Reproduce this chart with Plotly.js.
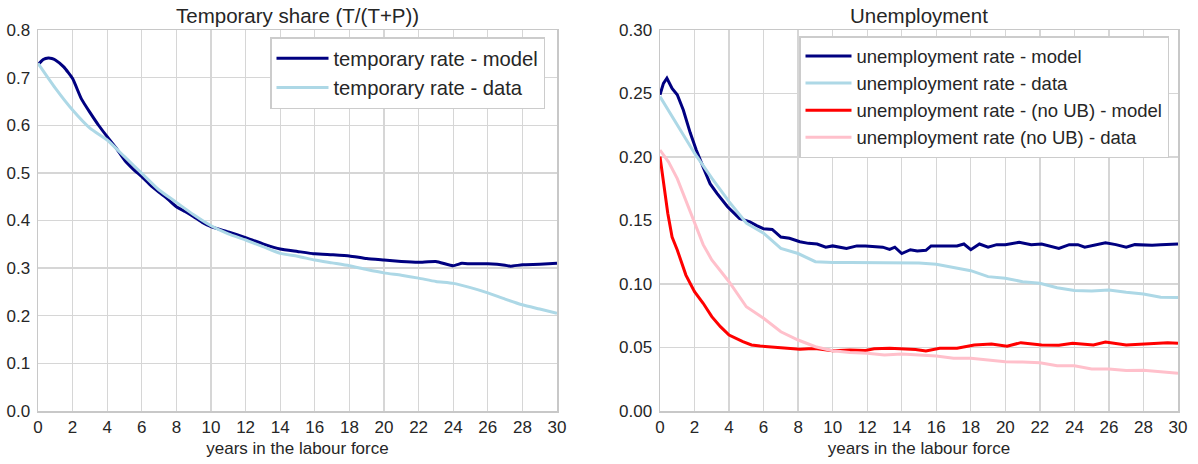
<!DOCTYPE html>
<html>
<head>
<meta charset="utf-8">
<script src="https://cdn.plot.ly/plotly-3.0.1.min.js"></script>
<style>html,body{margin:0;padding:0;background:#fff;}#chart{width:1198px;height:464px;}</style>
</head>
<body>
<div id="chart"></div>
<script>
// ---- Left panel: temporary share ----
const tmpModelYears = [0,0.3,0.6,0.8,1.0,1.5,2.0,2.5,3.0,3.5,4.0,4.5,5.0,5.5,6.0,6.5,7.0,7.5,8.0,8.5,9.0,9.5,10,11,12,13,14,15,16,17,18,19,20,21,22,23,24,24.5,25,26,27,27.3,28,29,30];
const tmpModel = [0.727,0.738,0.741,0.740,0.737,0.722,0.698,0.656,0.627,0.600,0.576,0.553,0.527,0.508,0.492,0.474,0.459,0.445,0.429,0.419,0.408,0.396,0.387,0.376,0.364,0.351,0.340,0.335,0.330,0.328,0.3256,0.320,0.317,0.314,0.3124,0.314,0.305,0.310,0.309,0.309,0.306,0.304,0.307,0.308,0.310];
const tmpDataYears = [0,1,2,3,4,5,6,7,8,9,10,11,12,13,14,15,16,17,18,19,20,21,22,23,24,25,26,27,28,29,30];
const tmpData = [0.730,0.678,0.632,0.594,0.569,0.534,0.499,0.464,0.438,0.412,0.389,0.372,0.359,0.345,0.331,0.325,0.317,0.311,0.305,0.297,0.290,0.285,0.279,0.272,0.268,0.259,0.248,0.235,0.223,0.214,0.205];

// ---- Right panel: unemployment ----
const uModelYears = [0,0.2,0.4,0.7,1.0,1.35,1.75,2.1,2.5,2.9,3.3,3.9,4.6,5.2,5.6,6.0,6.5,7.0,7.5,8.1,8.6,9.1,9.6,10,10.8,11.4,11.9,12.5,12.9,13.3,13.6,14,14.5,14.9,15.4,15.7,16.5,17.2,17.6,18,18.5,19,19.5,20,20.8,21.5,22.1,22.6,23.1,23.7,24.2,24.6,25.2,25.8,26.4,27,27.5,28,28.5,29,29.7,30];
const uModel = [0.249,0.258,0.262,0.254,0.249,0.237,0.219,0.2055,0.192,0.179,0.1714,0.161,0.1517,0.149,0.146,0.1435,0.143,0.137,0.136,0.1333,0.132,0.1315,0.129,0.130,0.128,0.130,0.130,0.1295,0.129,0.1273,0.129,0.124,0.127,0.126,0.1265,0.130,0.130,0.130,0.1315,0.127,0.1315,0.129,0.131,0.131,0.1328,0.131,0.1315,0.130,0.128,0.131,0.131,0.129,0.131,0.1325,0.131,0.129,0.131,0.1305,0.1305,0.131,0.1315,0.1315];
const uDataYears = [0,1,2,3,4,5,6,7,8,9,10,11,12,13,14,15,16,17,18,19,20,21,22,23,24,25,26,27,28,29,30];
const uData = [0.2476,0.225,0.203,0.1833,0.1648,0.148,0.140,0.128,0.124,0.1176,0.117,0.117,0.117,0.1165,0.1168,0.1165,0.1155,0.113,0.1105,0.1058,0.1045,0.1018,0.1006,0.0971,0.0948,0.0945,0.0953,0.0935,0.0921,0.0895,0.0893];
const uNoUBModelYears = [0,0.25,0.45,0.7,1.0,1.5,2.0,2.5,3.0,3.5,4.0,4.8,5.3,5.8,6.5,7.1,7.6,8.1,8.6,9.1,10,11,11.9,12.4,13.3,14,14.8,15.4,16.2,17.2,18.2,19.2,20.1,20.9,22.1,23.1,23.9,25.1,25.8,27,28.2,29.4,30];
const uNoUBModel = [0.2003,0.1766,0.1557,0.137,0.1268,0.107,0.094,0.0848,0.0743,0.0664,0.0598,0.0546,0.052,0.0512,0.0505,0.0499,0.049,0.0486,0.049,0.049,0.0475,0.048,0.0477,0.049,0.0494,0.0488,0.0485,0.0472,0.0494,0.0494,0.052,0.0528,0.051,0.0538,0.052,0.0517,0.0533,0.052,0.0543,0.052,0.0528,0.0538,0.0533];
const uNoUBDataYears = [0,0.5,1,1.5,2,2.5,3,4,5,6,7,8,9,10,11,12,13,14,15,16,17,18,19,20,21,22,23,24,25,26,27,28,29,30];
const uNoUBData = [0.2055,0.196,0.183,0.166,0.149,0.131,0.119,0.1018,0.0821,0.073,0.0624,0.0559,0.0506,0.0475,0.046,0.0454,0.0441,0.0449,0.0441,0.0433,0.0415,0.0415,0.0402,0.0388,0.0386,0.038,0.0357,0.0357,0.0331,0.033,0.0318,0.032,0.031,0.0297];

const xTicks = [0,2,4,6,8,10,12,14,16,18,20,22,24,26,28,30];
const leftTitle = 'Temporary share (T/(T+P))';
const rightTitle = 'Unemployment';
const xLabel = 'years in the labour force';

const NAVY = '#000080', LBLUE = '#add8e6', RED = '#ff0000', PINK = '#ffc0cb';
const W = 1198, H = 464;
const FONT = '"Liberation Sans", Arial, Helvetica, sans-serif';
const TXT = '#262626';

const traces = [
  {x: tmpModelYears, y: tmpModel, name: 'temporary rate - model', mode: 'lines', line: {color: NAVY, width: 3, shape: 'spline', smoothing: 0.4}, xaxis: 'x', yaxis: 'y', legend: 'legend'},
  {x: tmpDataYears, y: tmpData, name: 'temporary rate - data', mode: 'lines', line: {color: LBLUE, width: 3, shape: 'spline', smoothing: 0.6}, xaxis: 'x', yaxis: 'y', legend: 'legend'},
  {x: uModelYears, y: uModel, name: 'unemployment rate - model', mode: 'lines', line: {color: NAVY, width: 3}, xaxis: 'x2', yaxis: 'y2', legend: 'legend2'},
  {x: uDataYears, y: uData, name: 'unemployment rate - data', mode: 'lines', line: {color: LBLUE, width: 3}, xaxis: 'x2', yaxis: 'y2', legend: 'legend2'},
  {x: uNoUBModelYears, y: uNoUBModel, name: 'unemployment rate - (no UB) - model', mode: 'lines', line: {color: RED, width: 3}, xaxis: 'x2', yaxis: 'y2', legend: 'legend2'},
  {x: uNoUBDataYears, y: uNoUBData, name: 'unemployment rate (no UB) - data', mode: 'lines', line: {color: PINK, width: 3}, xaxis: 'x2', yaxis: 'y2', legend: 'legend2'}
];

const yTop = 1 - 30 / H, yBot = 1 - 411 / H;
const axBase = {
  showgrid: true, gridcolor: '#d6d6d6', gridwidth: 1.3,
  showline: true, linecolor: '#c8c8c8', linewidth: 1.5, mirror: true,
  zeroline: false, ticks: '', tickfont: {family: FONT, size: 17, color: TXT},
  fixedrange: true
};

const layout = {
  width: W, height: H,
  margin: {l: 0, r: 0, t: 0, b: 0},
  paper_bgcolor: '#ffffff', plot_bgcolor: '#ffffff',
  font: {family: FONT, color: TXT},
  showlegend: true,
  xaxis: Object.assign({}, axBase, {domain: [38 / W, 557 / W], range: [0, 30], tickvals: xTicks, ticktext: xTicks.map(String), anchor: 'y',
    title: {text: xLabel, font: {family: FONT, size: 17, color: TXT}, standoff: 6}}),
  yaxis: Object.assign({}, axBase, {domain: [yBot, yTop], range: [0, 0.8], dtick: 0.1, tickformat: '.1f', anchor: 'x', ticklabelstandoff: 3}),
  xaxis2: Object.assign({}, axBase, {domain: [660 / W, 1178 / W], range: [0, 30], tickvals: xTicks, ticktext: xTicks.map(String), anchor: 'y2',
    title: {text: xLabel, font: {family: FONT, size: 17, color: TXT}, standoff: 6}}),
  yaxis2: Object.assign({}, axBase, {domain: [yBot, yTop], range: [0, 0.30], dtick: 0.05, tickformat: '.2f', anchor: 'x2', ticklabelstandoff: 3}),
  legend: {x: 545 / W, xanchor: 'right', y: 1 - 37 / H, yanchor: 'top', bgcolor: '#ffffff', bordercolor: '#cccccc', borderwidth: 1.5,
    font: {family: FONT, size: 20.2, color: TXT}, itemwidth: 52},
  legend2: {x: 1169 / W, xanchor: 'right', y: 1 - 36 / H, yanchor: 'top', bgcolor: '#ffffff', bordercolor: '#cccccc', borderwidth: 1.5,
    font: {family: FONT, size: 18.5, color: TXT}, itemwidth: 46},
  annotations: [
    {text: leftTitle, xref: 'paper', yref: 'paper', x: (38 + 557) / 2 / W, y: 1 - 15 / H, xanchor: 'center', yanchor: 'middle', showarrow: false,
      font: {family: FONT, size: 20.5, color: TXT}},
    {text: rightTitle, xref: 'paper', yref: 'paper', x: (660 + 1178) / 2 / W, y: 1 - 15 / H, xanchor: 'center', yanchor: 'middle', showarrow: false,
      font: {family: FONT, size: 20.5, color: TXT}}
  ]
};

Plotly.newPlot('chart', traces, layout, {displayModeBar: false, staticPlot: true});
</script>
</body>
</html>
